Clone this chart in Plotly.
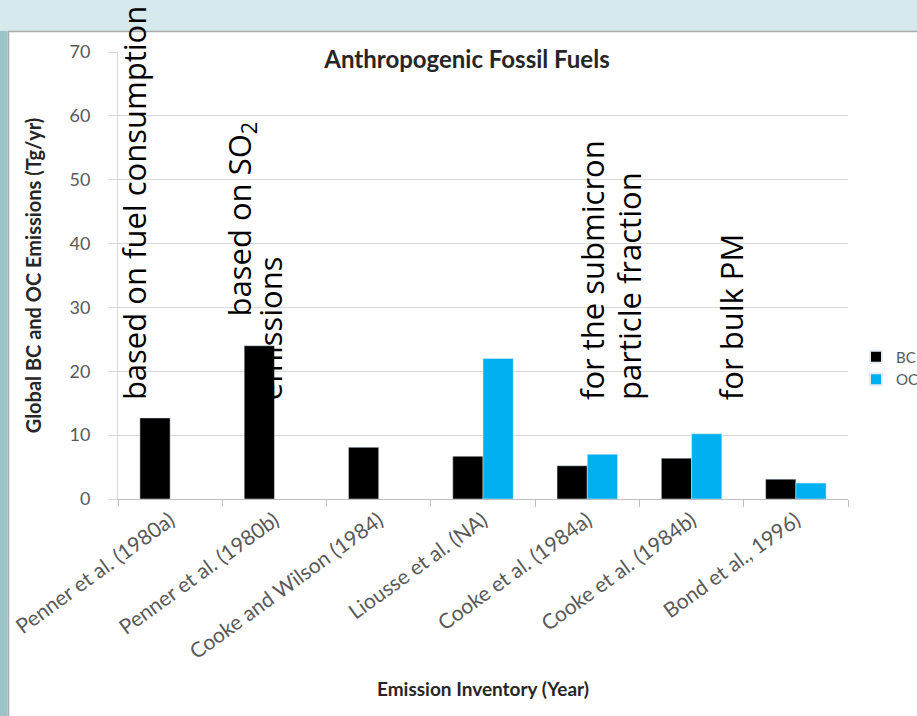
import plotly.graph_objects as go

categories = ["Penner et al. (1980a)", "Penner et al. (1980b)", "Cooke and Wilson (1984)",
              "Liousse et al. (NA)", "Cooke et al. (1984a)", "Cooke et al. (1984b)", "Bond et al., 1996)"]
bc_values = [12.7, 24.0, 8.1, 6.7, 5.2, 6.4, 3.1]
oc_values = [None, None, None, 22.0, 7.0, 10.2, 2.5]

W, H = 917, 716
L, R, T, B = 118, 69, 52, 217
pw, ph = W - L - R, H - T - B

def px_x(p):
    return (p - L) / pw

def px_y(p):
    return (H - B - p) / ph

fig = go.Figure()
fig.add_trace(go.Bar(x=categories, y=bc_values, name="BC", marker_color="#000000"))
fig.add_trace(go.Bar(x=categories, y=oc_values, name="OC", marker_color="#00B0F0"))

shapes = [
    dict(type="rect", xref="paper", yref="paper", x0=px_x(8.5), x1=px_x(W + 5), y0=px_y(H + 5), y1=px_y(31.5),
         fillcolor="white", line=dict(color="#a8acad", width=1.5), layer="below"),
    dict(type="rect", xref="paper", yref="paper", x0=px_x(-2), x1=px_x(7.5), y0=px_y(H + 5), y1=px_y(31),
         fillcolor="#9cc3c8", line=dict(width=0), layer="below"),
]

font_ann = "Open Sans, DejaVu Sans, sans-serif"
ann_size = 31
annotations = []
notes = [
    ("based on fuel consumption", -0.345, 15.2),
    ("based on SO<sub>2</sub>", 0.676, 28.3),
    ("emissions", 0.96, 15.2),
    ("for the submicron", 4.046, 15.2),
    ("particle fraction", 4.40, 15.2),
    ("for bulk PM", 5.38, 15.2),
]
for txt, xv, yv in notes:
    annotations.append(dict(text=txt, x=xv, y=yv, xref="x", yref="y", textangle=-90,
                            xanchor="center", yanchor="bottom", showarrow=False,
                            font=dict(family=font_ann, size=ann_size, color="black")))

fig.update_layout(
    width=W, height=H,
    margin=dict(l=L, r=R, t=T, b=B, autoexpand=False),
    paper_bgcolor="#d6e9ec",
    plot_bgcolor="rgba(0,0,0,0)",
    barmode="group",
    bargap=0.42,
    bargroupgap=0,
    showlegend=True,
    legend=dict(x=px_x(856), y=px_y(368), xanchor="left", yanchor="middle",
                font=dict(family="Lato, sans-serif", size=15, color="#595959"),
                bgcolor="rgba(0,0,0,0)", itemsizing="constant", itemwidth=30, tracegroupgap=2),
    title=dict(text="<b>Anthropogenic Fossil Fuels</b>", x=467 / W, xanchor="center",
               y=1 - 60 / H, yanchor="middle",
               font=dict(family="Lato, sans-serif", size=24, color="#262626")),
    shapes=shapes,
    annotations=annotations,
    font=dict(family="Lato, sans-serif"),
)

fig.update_xaxes(
    type="category", range=[-0.5, len(categories) - 0.5], autorange=False,
    tickson="boundaries", ticks="outside", ticklen=7, tickcolor="#bfbfbf",
    showline=True, linecolor="#bfbfbf", linewidth=1, showgrid=False, automargin=False,
    tickangle=-36, tickfont=dict(family="Lato, sans-serif", size=21, color="#595959"),
    title=dict(text="<b>Emission Inventory (Year)</b>", standoff=20,
               font=dict(family="Lato, sans-serif", size=19, color="#262626")),
)
fig.update_yaxes(
    range=[0, 70], dtick=10, ticks="outside", ticklen=9, tickcolor="#d9d9d9",
    showline=True, linecolor="#d9d9d9", linewidth=1, automargin=False,
    showgrid=True, gridcolor="#d9d9d9", gridwidth=1, zeroline=False,
    ticklabelstandoff=14,
    tickfont=dict(family="Lato, sans-serif", size=18, color="#595959"),
    title=dict(text="<b>Global BC and OC Emissions (Tg/yr)</b>", standoff=22,
               font=dict(family="Lato, sans-serif", size=20, color="#262626")),
)

fig.write_html("out.html", config={"displayModeBar": False},
               post_script="document.body.style.margin='0';")
